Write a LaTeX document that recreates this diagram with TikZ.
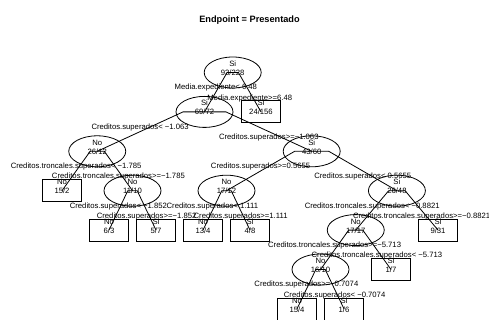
\documentclass[tikz,border=0pt]{standalone}
\usepackage{fontspec}
\setmainfont{Liberation Sans}
\usetikzlibrary{shapes.geometric,calc}

% tree node: name, shape style, x, y, class label, counts
\newcommand\treenode[6]{%
  \node[#2] (#1) at (#3,#4) {};
  \node[txt] (#1-c) at ($(#1.center)+(0,-5.9)$) {#5};
  \node[txt] (#1-n) at ($(#1.center)+(0,3.1)$) {#6};
}
% branch from a parent to its two children (rpart style, branch = 0.2)
\newcommand\treebranch[3]{%
  \coordinate (#1-a) at ($(#2.center)!0.4!(#3.center)$);
  \coordinate (#1-b) at ($(#3.center)!0.4!(#2.center)$);
  \draw[edge] (#2.center) -- (#1-a |- #1.center) -- (#1-b |- #1.center) -- (#3.center);
}

\begin{document}
\begin{tikzpicture}[x=1pt,y=-1pt,
  inner/.style={ellipse,draw,line width=0.8pt,minimum width=57pt,minimum height=31pt,inner sep=0pt},
  leaf/.style={rectangle,draw,line width=0.8pt,minimum width=39pt,minimum height=22pt,inner sep=0pt},
  edge/.style={line width=0.8pt},
  txt/.style={font=\fontsize{7.7}{9}\selectfont,inner sep=0pt,anchor=base},
]
\useasboundingbox (0,0) rectangle (489,320);

\node[anchor=base,inner sep=0pt,font=\bfseries\fontsize{9.2}{11}\selectfont] (title) at (249.5,22.8) {Endpoint = Presentado};

% nodes
\treenode{n1}{inner}{232.7}{72.5}{Si}{93/228}
\treenode{n2}{inner}{204.5}{111.9}{Si}{69/72}
\treenode{n3}{leaf}{261}{111.9}{Si}{24/156}
\treenode{n4}{inner}{97.25}{151.3}{No}{26/12}
\treenode{n5}{inner}{311.7}{151.3}{Si}{43/60}
\treenode{n8}{leaf}{62}{190.7}{No}{15/2}
\treenode{n9}{inner}{132.5}{190.7}{No}{11/10}
\treenode{n10}{inner}{226.5}{190.7}{No}{17/12}
\treenode{n11}{inner}{396.9}{190.7}{Si}{26/48}
\treenode{n18}{leaf}{109}{230.1}{No}{6/3}
\treenode{n19}{leaf}{156}{230.1}{Si}{5/7}
\treenode{n20}{leaf}{203}{230.1}{No}{13/4}
\treenode{n21}{leaf}{250}{230.1}{Si}{4/8}
\treenode{n22}{inner}{355.75}{230.1}{No}{17/17}
\treenode{n23}{leaf}{438}{230.1}{Si}{9/31}
\treenode{n44}{inner}{320.5}{269.5}{No}{16/10}
\treenode{n45}{leaf}{391}{269.5}{Si}{1/7}
\treenode{n88}{leaf}{297}{308.9}{No}{15/4}
\treenode{n89}{leaf}{344}{308.9}{Si}{1/6}

% branches
\treebranch{n1}{n2}{n3}
\treebranch{n2}{n4}{n5}
\treebranch{n4}{n8}{n9}
\treebranch{n5}{n10}{n11}
\treebranch{n9}{n18}{n19}
\treebranch{n10}{n20}{n21}
\treebranch{n11}{n22}{n23}
\treebranch{n22}{n44}{n45}
\treebranch{n44}{n88}{n89}

% split labels
\node[txt] (s2) at (215.8,89.8) {Media.expediente< 6.48};
\node[txt] (s3) at (249.7,100.2) {Media.expediente>=6.48};
\node[txt] (s4) at (140.1,129.2) {Creditos.superados< −1.063};
\node[txt] (s5) at (268.8,139.6) {Creditos.superados>=−1.063};
\node[txt] (s8) at (76.1,168.6) {Creditos.troncales.superados< −1.785};
\node[txt] (s9) at (118.4,179.0) {Creditos.troncales.superados>=−1.785};
\node[txt] (s10) at (260.6,168.6) {Creditos.superados>=0.5655};
\node[txt] (s11) at (362.8,179.0) {Creditos.superados< 0.5655};
\node[txt] (s18) at (118.4,208.0) {Creditos.superados< −1.852};
\node[txt] (s19) at (146.6,218.4) {Creditos.superados>=−1.852};
\node[txt] (s20) at (212.4,208.0) {Creditos.superados< 1.111};
\node[txt] (s21) at (240.6,218.4) {Creditos.superados>=1.111};
\node[txt] (s22) at (372.2,208.0) {Creditos.troncales.superados< −0.8821};
\node[txt] (s23) at (421.6,218.4) {Creditos.troncales.superados>=−0.8821};
\node[txt] (s44) at (334.6,247.4) {Creditos.troncales.superados>=−5.713};
\node[txt] (s45) at (376.9,257.8) {Creditos.troncales.superados< −5.713};
\node[txt] (s88) at (306.4,286.8) {Creditos.superados>=−0.7074};
\node[txt] (s89) at (334.6,297.2) {Creditos.superados< −0.7074};
\end{tikzpicture}
\end{document}
